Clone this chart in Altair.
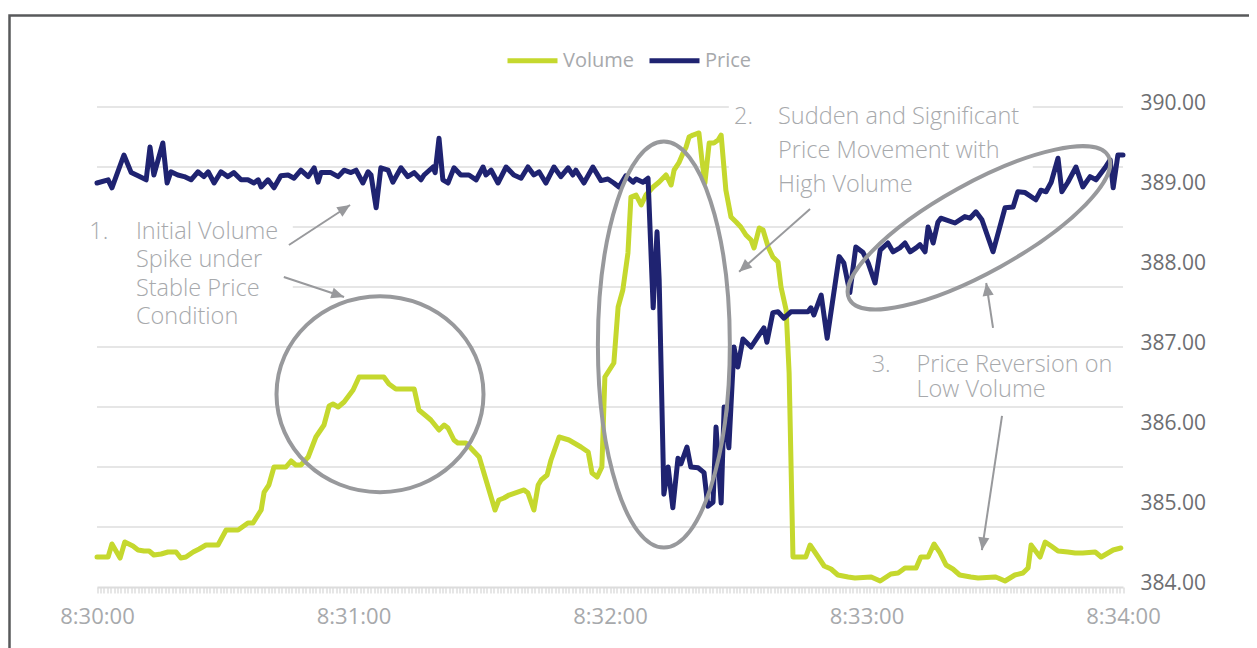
import altair as alt
import pandas as pd

# ---------------- data ----------------
# seconds after 8:30:00
price_t = [0, 2.6, 3.5, 6.3, 8.0, 9.6, 11.5, 12.4, 13.3, 15.4,
           16.4, 17.3, 18.9, 20.4, 22.0, 23.6, 25.0, 26.0, 27.4, 29.0,
           30.6, 32.0, 33.7, 35.3, 36.7, 37.7, 38.4, 40.0, 41.4, 43.0,
           44.7, 46.1, 47.7, 49.4, 50.8, 51.7, 52.4, 54.7, 56.4, 57.8,
           59.4, 60.6, 62.2, 63.4, 64.1, 65.3, 66.4, 68.1, 69.2, 71.1,
           72.7, 74.2, 75.8, 76.5, 78.6, 79.1, 80.0, 80.9, 82.1, 83.5,
           85.1, 87.0, 88.7, 90.3, 91.0, 92.2, 93.8, 95.7, 97.5, 99.2,
           100.8, 102.2, 103.4, 105.0, 106.9, 108.5, 110.2, 111.3, 112.0, 113.9,
           116.0, 117.9, 119.5, 120.9, 122.1, 123.7, 125.4, 126.1, 127.7, 128.9,
           130.1, 131.0, 131.5, 132.6, 133.6, 134.7, 135.9, 136.6, 138.0, 138.9,
           140.6, 142.0, 142.9, 144.1, 144.8, 146.0, 146.7, 147.8, 149.0, 149.9,
           151.1, 153.0, 154.6, 156.0, 156.7, 158.1, 159.3, 160.7, 162.3, 166.3,
           167.0, 167.7, 169.4, 170.8, 173.6, 174.7, 176.1, 177.5, 179.2, 180.4,
           182.0, 183.2, 185.0, 186.2, 187.8, 189.0, 190.2, 191.6, 192.5, 193.7,
           194.4, 195.6, 196.7, 197.4, 200.7, 203.0, 204.2, 205.6, 207.0, 209.6,
           212.4, 214.3, 215.4, 217.1, 219.6, 220.8, 222.0, 223.2, 224.8, 225.7,
           227.1, 229.0, 230.6, 232.3, 233.7, 235.8, 237.0, 237.7, 238.8, 240.0]
price_v = [389.05, 389.09, 388.99, 389.40, 389.18, 389.14, 389.09, 389.50, 389.15, 389.55,
           389.05, 389.19, 389.15, 389.13, 389.09, 389.19, 389.13, 389.19, 389.05, 389.19,
           389.13, 389.18, 389.09, 389.09, 389.05, 389.09, 389.00, 389.09, 388.99, 389.14,
           389.15, 389.11, 389.21, 389.13, 389.24, 389.06, 389.18, 389.18, 389.13, 389.21,
           389.18, 389.21, 389.05, 389.19, 389.15, 388.74, 389.24, 389.21, 389.06, 389.24,
           389.13, 389.18, 389.09, 389.15, 389.25, 389.18, 389.61, 389.09, 389.05, 389.24,
           389.15, 389.15, 389.09, 389.25, 389.15, 389.21, 389.05, 389.25, 389.15, 389.11,
           389.25, 389.15, 389.19, 389.05, 389.25, 389.13, 389.24, 389.15, 389.21, 389.05,
           389.25, 389.08, 389.10, 389.05, 389.00, 389.14, 389.06, 389.10, 389.06, 389.11,
           387.49, 388.44, 387.84, 385.16, 385.50, 384.99, 385.61, 385.54, 385.75, 385.50,
           385.49, 385.43, 385.01, 385.06, 386.00, 385.05, 386.25, 385.74, 387.00, 386.75,
           387.10, 387.00, 387.13, 387.24, 387.06, 387.43, 387.44, 387.36, 387.44, 387.44,
           387.49, 387.40, 387.65, 387.11, 388.13, 388.05, 387.68, 388.25, 388.18, 388.05,
           387.80, 388.21, 388.30, 388.19, 388.24, 388.30, 388.19, 388.24, 388.28, 388.19,
           388.50, 388.30, 388.56, 388.61, 388.55, 388.63, 388.61, 388.69, 388.59, 388.19,
           388.74, 388.75, 388.94, 388.93, 388.84, 388.96, 388.94, 389.06, 389.36, 388.94,
           389.06, 389.25, 389.00, 389.13, 389.09, 389.24, 389.34, 388.99, 389.40, 389.40]

vol_t = [0, 2.6, 3.5, 5.4, 6.5, 8.4, 9.6, 11.0, 12.2, 13.3,
         15.0, 16.6, 18.5, 19.6, 20.8, 22.5, 23.9, 25.5, 28.3, 30.2,
         33.0, 35.3, 36.5, 38.4, 39.1, 40.2, 41.4, 44.2, 45.4, 46.5,
         47.7, 49.4, 51.2, 53.1, 54.3, 55.2, 56.4, 57.8, 59.9, 61.3,
         67.1, 68.3, 69.9, 74.2, 75.3, 77.0, 78.1, 80.0, 81.2, 82.1,
         83.5, 84.4, 86.3, 89.4, 91.0, 93.1, 94.0, 95.2, 96.4, 99.9,
         100.8, 102.2, 103.2, 103.9, 105.3, 106.2, 108.1, 110.4, 111.6, 113.2,
         114.9, 115.8, 117.0, 118.1, 118.8, 120.9, 121.9, 123.0, 124.2, 124.9,
         126.1, 127.3, 128.4, 130.1, 131.5, 133.1, 134.3, 135.0, 136.1, 137.1,
         137.8, 138.5, 139.4, 140.8, 141.5, 142.2, 143.2, 144.3, 145.3, 146.0,
         147.1, 148.3, 149.5, 150.6, 151.8, 153.0, 153.7, 154.9, 155.8, 157.0,
         158.1, 159.3, 160.0, 161.2, 161.9, 162.8, 165.8, 166.8, 168.7, 170.1,
         171.7, 173.3, 175.7, 177.3, 181.1, 183.2, 185.7, 187.4, 189.0, 191.6,
         192.7, 194.4, 195.8, 197.2, 198.6, 200.2, 201.8, 204.4, 206.1, 210.1,
         210.8, 212.4, 214.7, 216.6, 217.8, 218.5, 220.6, 221.8, 223.2, 224.8,
         227.1, 228.8, 230.6, 233.5, 234.9, 237.7, 239.5]
vol_v = [500, 500, 717, 483, 750, 683, 617, 600, 600, 533,
         550, 583, 583, 483, 500, 583, 633, 700, 700, 950,
         950, 1067, 1067, 1283, 1583, 1700, 2000, 2000, 2100, 2033,
         2033, 2167, 2500, 2700, 3017, 3050, 3000, 3083, 3283, 3500,
         3500, 3383, 3300, 3300, 2950, 2850, 2783, 2617, 2700, 2650,
         2450, 2400, 2400, 2167, 1783, 1283, 1450, 1483, 1533, 1617,
         1567, 1283, 1700, 1783, 1867, 2117, 2500, 2450, 2400, 2333,
         2250, 1900, 1833, 2000, 3500, 3733, 4667, 4950, 5567, 6500,
         6533, 6367, 6533, 6667, 6750, 6867, 6700, 6950, 7067, 7233,
         7333, 7500, 7533, 7567, 7117, 6733, 7400, 7400, 7450, 7533,
         6617, 6167, 6083, 6000, 5867, 5783, 5650, 5983, 5950, 5667,
         5500, 5417, 5000, 4617, 3567, 500, 500, 700, 500, 350,
         300, 200, 167, 150, 167, 100, 217, 233, 317, 317,
         500, 500, 717, 567, 367, 300, 200, 167, 150, 167,
         150, 100, 200, 233, 317, 700, 500, 750, 683, 600,
         583, 567, 567, 583, 500, 617, 650]

series_names = ["Volume", "Price"]
series_colors = ["#c5d82e", "#1f2371"]

x_labels = ["8:30:00", "8:31:00", "8:32:00", "8:33:00", "8:34:00"]
price_ticks = [384, 385, 386, 387, 388, 389, 390]
vol_grid = [1000, 2000, 3000, 4000, 5000, 6000, 7000, 8000]
tick_vals = [round(i * 0.8, 1) for i in range(301)]

# annotation texts
note_nums = ["1.", "2.", "3."]
note_texts = ["Initial Volume\nSpike under\nStable Price\nCondition",
              "Sudden and Significant\nPrice Movement with\nHigh Volume",
              "Price Reversion on\nLow Volume"]
note_num_t = [-1.8, 149.0, 181.2]
note_text_t = [9.1, 159.3, 191.7]
note_p = [388.59, 390.03, 386.93]
note_lh = [28.5, 34, 25]

# text box backgrounds (cut the grid lines)
box_t0 = [-1.0, 147.8]
box_t1 = [45.8, 218.9]
box_p0 = [387.15, 388.84]
box_p1 = [388.84, 390.11]

# ellipses
ell_t = [66.2, 132.6, 206.3]
ell_p = [386.41, 387.03, 388.49]

# arrows (start -> tip)
arr_t0 = [44.9, 43.7, 166.8, 209.6, 211.7]
arr_p0 = [388.275, 387.875, 388.725, 387.24, 386.14]
arr_t1 = [59.2, 57.8, 150.2, 208.0, 207.0]
arr_p1 = [388.775, 387.625, 387.94, 387.80, 384.46]
arr_ang = [56.7, 108.4, 228.4, 351.2, 188.5]

# ---------------- frames ----------------
price_df = pd.DataFrame({"t": price_t, "v": price_v, "series": "Price"})
vol_df = pd.DataFrame({"t": vol_t, "v": vol_v, "series": "Volume"})
grid_df = pd.DataFrame({"g": vol_grid, "t0": 0, "t1": 240})
box_df = pd.DataFrame({"t0": box_t0, "t1": box_t1, "p0": box_p0, "p1": box_p1})
ell_df = pd.DataFrame({"t": ell_t, "p": ell_p})
arr_df = pd.DataFrame({"t0": arr_t0, "p0": arr_p0, "t1": arr_t1, "p1": arr_p1, "ang": arr_ang})
num_df = pd.DataFrame({"t": note_num_t, "p": note_p, "txt": note_nums})

W, H = 1300, 700
PAD = {"left": 1.5, "top": 7.5, "right": -61, "bottom": -67.5}
XR = [87.5, 1113.5]
YR = [571.5, 91.5]
FONT = "Open Sans"
TXT = "#a7a9ac"
GRAY = "#98999c"
NOTE_FS = 23.5

label_arr = "[" + ",".join("'" + s + "'" for s in x_labels) + "]"
label_expr = "datum.value % 60 == 0 ? " + label_arr + "[datum.value / 60] : ''"
xaxis = alt.Axis(values=tick_vals, orient="bottom", offset=-(H - YR[0]), grid=False,
                 domainColor="#dcdcdc", domainWidth=2, tickColor="#d6d6d6", tickWidth=1.2,
                 tickSize=6, labelFont=FONT, labelFontSize=22, labelColor=TXT,
                 labelPadding=13, labelOverlap=False, labelFlush=False, title=None,
                 labelExpr=label_expr)
xscale = alt.Scale(domain=[0, 240], range=XR, nice=False, zero=False)
pscale = alt.Scale(domain=[384, 390], range=YR, nice=False, zero=False)
vscale = alt.Scale(domain=[0, 8000], range=YR, nice=False, zero=False)

def X(f="t"):
    return alt.X(f + ":Q", scale=xscale, axis=xaxis)

color = alt.Color("series:N", scale=alt.Scale(domain=series_names, range=series_colors),
                  legend=alt.Legend(orient="none", legendX=495.5, legendY=17.5,
                                    direction="horizontal", title=None, symbolType="stroke",
                                    symbolSize=2500, symbolStrokeWidth=5, labelFont=FONT,
                                    labelFontSize=20, labelColor=TXT, labelOffset=3,
                                    columnPadding=4, padding=0))

grid = alt.Chart(grid_df).mark_rule(color="#dedede", strokeWidth=1.6).encode(
    x=X("t0"), x2="t1", y=alt.Y("g:Q", scale=vscale, axis=None))

boxes = alt.Chart(box_df).mark_rect(color="white").encode(
    x=X("t0"), x2="t1", y=alt.Y("p0:Q", scale=pscale, axis=None), y2="p1")

vol_line = alt.Chart(vol_df).mark_line(strokeWidth=5, strokeJoin="round", strokeCap="round").encode(
    x=X(), y=alt.Y("v:Q", scale=vscale, axis=None), color=color)

price_line = alt.Chart(price_df).mark_line(strokeWidth=5, strokeJoin="round", strokeCap="round").encode(
    x=X(),
    y=alt.Y("v:Q", scale=pscale,
            axis=alt.Axis(orient="right", offset=-(W - XR[1]), values=price_ticks, format=".2f",
                          grid=False, ticks=False, domain=False, labelPadding=17,
                          labelFont=FONT, labelFontSize=21, labelColor="#6d6e71",
                          labelAlign="left", labelOffset=-4, title=None)),
    color=color)

k = 0.5523
def ellipse_path(rx, ry):
    return ("M{a},0 C{a},{b} {c},{d} 0,{d} C{e},{d} {f},{b} {f},0 "
            "C{f},{g} {e},{h} 0,{h} C{c},{h} {a},{g} {a},0 Z").format(
        a=-rx, b=-ry * k, c=-rx * k, d=-ry, e=rx * k, f=rx, g=ry * k, h=ry)

ell_specs = [(ellipse_path(1, 0.947), 42849, 0),
             (ellipse_path(0.325, 1), 164836, 0),
             (ellipse_path(1, 0.30), 87616, 331)]
ell_layers = []
for i, (shape, size, ang) in enumerate(ell_specs):
    ell_layers.append(
        alt.Chart(ell_df.iloc[[i]]).mark_point(shape=shape, size=size, angle=ang, filled=False,
                                               color=GRAY, strokeWidth=4, opacity=1).encode(
            x=X(), y=alt.Y("p:Q", scale=pscale, axis=None)))

arr_lines = alt.Chart(arr_df).mark_rule(color=GRAY, strokeWidth=2).encode(
    x=X("t0"), x2="t1", y=alt.Y("p0:Q", scale=pscale, axis=None), y2="p1")
arr_heads = alt.Chart(arr_df).mark_point(shape="M0,0 L0.7,1.6 L-0.7,1.6 Z", size=256,
                                         filled=True, color=GRAY, opacity=1).encode(
    x=X("t1"), y=alt.Y("p1:Q", scale=pscale, axis=None), angle=alt.Angle("ang:Q", scale=None))

nums = alt.Chart(num_df).mark_text(align="left", baseline="top", font=FONT, fontSize=NOTE_FS,
                                   fontWeight=300, color=TXT).encode(
    x=X(), y=alt.Y("p:Q", scale=pscale, axis=None), text="txt:N")

text_layers = []
for i in range(3):
    df = pd.DataFrame({"t": [note_text_t[i]], "p": [note_p[i]], "txt": [note_texts[i]]})
    text_layers.append(
        alt.Chart(df).mark_text(align="left", baseline="top", font=FONT, fontSize=NOTE_FS,
                                fontWeight=300, color=TXT, lineBreak="\n",
                                lineHeight=note_lh[i]).encode(
            x=X(), y=alt.Y("p:Q", scale=pscale, axis=None), text="txt:N"))

chart = alt.layer(grid, boxes, vol_line, price_line, *ell_layers, arr_lines, arr_heads,
                  nums, *text_layers).resolve_scale(y="independent").properties(
    width=W, height=H, padding=PAD, autosize=alt.AutoSizeParams(type="none"),
    background="white"
).configure_view(stroke="#58595b", strokeWidth=2.5)

chart.save("out.html", embed_options={"renderer": "svg", "actions": False})
